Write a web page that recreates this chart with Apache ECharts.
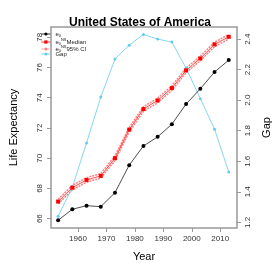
<!DOCTYPE html>
<html><head><meta charset="utf-8">
<script src="https://cdn.jsdelivr.net/npm/echarts@6/dist/echarts.min.js"></script>
<style>html,body{margin:0;padding:0;background:#fff}#c{width:280px;height:280px}</style>
</head><body><div id="c"></div>
<script>
const years = [1953,1958,1963,1968,1973,1978,1983,1988,1993,1998,2003,2008,2013];
const e0 = [65.89,66.62,66.86,66.79,67.72,69.54,70.81,71.41,72.25,73.58,74.59,75.70,76.49];
const median = [67.13,68.05,68.56,68.83,70.00,71.89,73.25,73.82,74.64,75.81,76.60,77.53,78.03];
const ciUpper = [67.28,68.20,68.71,68.98,70.15,72.04,73.40,73.97,74.79,75.96,76.75,77.68,78.18];
const ciLower = [66.98,67.90,68.41,68.68,69.85,71.74,73.10,73.67,74.49,75.66,76.45,77.38,77.88];
const gap = [1.24,1.43,1.72,2.02,2.27,2.36,2.43,2.40,2.38,2.21,2.01,1.81,1.53];
const xTicks = [1960,1970,1980,1990,2000,2010];
const yTicks = [66,68,70,72,74,76,78];
const gapTicks = [1.2,1.4,1.6,1.8,2.0,2.2,2.4];

const pair = (arr) => years.map((y,i)=>[y,arr[i]]);
const F = 'Liberation Sans';
const grey = '#999';
const chart = echarts.init(document.getElementById('c'), null, {renderer:'canvas'});
const rich = {
  b:{fontFamily:F,fontSize:6,color:'#222'},
  s:{fontFamily:F,fontSize:4,color:'#222',padding:[4,0,0,0]},
  p:{fontFamily:F,fontSize:4,color:'#222',padding:[0,0,4,0]}
};
function leg(name, top){
  return {data:[name], left:41, top:top, orient:'vertical', itemWidth:9, itemHeight:4,
    itemGap:0, padding:0, textStyle:{fontFamily:F,fontSize:6,color:'#222',rich:rich},
    lineStyle:{width:0.8}, itemStyle:{},
    formatter:function(n){
      if(n==='e0') return '{b|e}{s|0}';
      if(n==='med') return '{b|e}{s|0}{p|NS}{b|Median}';
      if(n==='ci') return '{b|e}{s|0}{p|NS}{b|95% CI}';
      return '{b|Gap}';
    }, selectedMode:false};
}
chart.setOption({
  animation:false,
  title:{text:'United States of America', left:'center', top:12,
    textStyle:{fontFamily:F,fontWeight:'bold',fontSize:12,color:'#000'}},
  legend:[leg('e0',31),leg('med',38),leg('ci',45),leg('Gap',51)],
  grid:{left:40,right:40,top:27,bottom:52,show:true,borderColor:grey,borderWidth:1.5,containLabel:false},
  xAxis:{type:'value',min:1950.5,max:2015.9,
    name:'Year',nameLocation:'middle',nameGap:23,
    nameTextStyle:{fontFamily:F,fontSize:11,color:'#000'},
    axisLine:{show:false},splitLine:{show:false},
    axisTick:{show:true,length:4,lineStyle:{color:grey},customValues:xTicks},
    axisLabel:{fontFamily:F,fontSize:8,color:'#333',margin:7,customValues:xTicks,formatter:v=>String(v)}},
  yAxis:[{type:'value',min:65.38,max:78.68,position:'left',
    name:'Life Expectancy',nameLocation:'middle',nameGap:32,
    nameTextStyle:{fontFamily:F,fontSize:11,color:'#000'},
    axisLine:{show:false},splitLine:{show:false},
    axisTick:{show:true,length:4,lineStyle:{color:grey},customValues:yTicks},
    axisLabel:{fontFamily:F,fontSize:8,color:'#333',rotate:90,margin:7,customValues:yTicks,formatter:v=>String(v)}},
   {type:'value',min:1.163,max:2.479,position:'right',
    name:'Gap',nameLocation:'middle',nameGap:24,nameRotate:90,
    nameTextStyle:{fontFamily:F,fontSize:11,color:'#000'},
    axisLine:{show:false},splitLine:{show:false},
    axisTick:{show:true,length:4,lineStyle:{color:grey},customValues:gapTicks},
    axisLabel:{fontFamily:F,fontSize:8,color:'#333',rotate:90,margin:7,customValues:gapTicks,
      formatter:v=>v.toFixed(1)}}],
  series:[
    {name:'ci',type:'line',data:pair(ciUpper),symbol:'none',lineStyle:{color:'#ff8080',width:1.5,type:[2,1]},itemStyle:{color:'#ff8080'}},
    {name:'ci',type:'line',data:pair(ciLower),symbol:'none',lineStyle:{color:'#ff8080',width:1.5,type:[2,1]},itemStyle:{color:'#ff8080'}},
    {name:'Gap',type:'line',yAxisIndex:1,data:pair(gap),symbol:'circle',symbolSize:3,
      lineStyle:{color:'#66ccee',width:0.8},itemStyle:{color:'#66ccee'}},
    {name:'e0',type:'line',data:pair(e0),symbol:'circle',symbolSize:4,
      lineStyle:{color:'#000',width:0.7},itemStyle:{color:'#000'}},
    {name:'med',type:'line',data:pair(median),symbol:'rect',symbolSize:4,
      lineStyle:{color:'#ff0000',width:0.7},itemStyle:{color:'#ff0000'}}
  ]
});
</script></body></html>
